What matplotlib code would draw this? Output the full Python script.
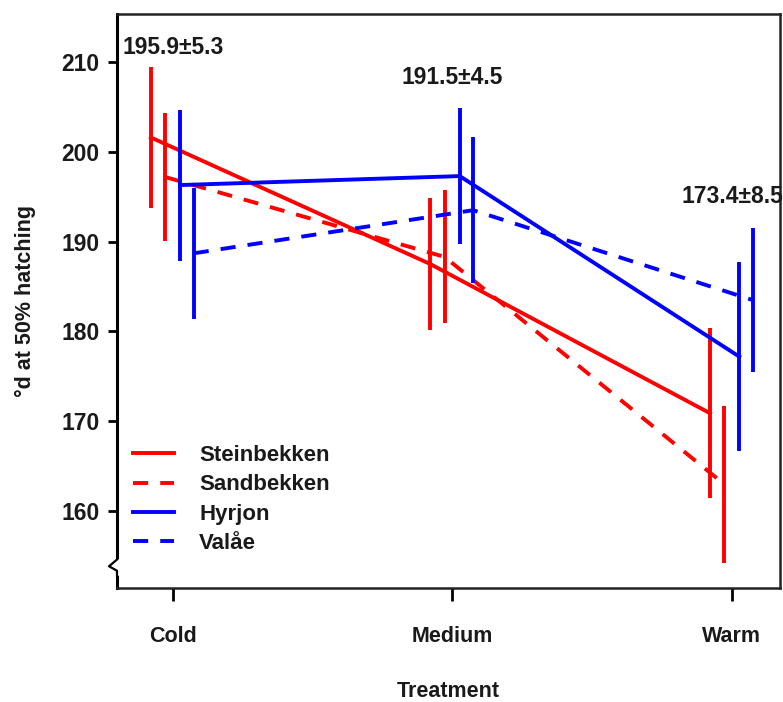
import matplotlib
matplotlib.use("Agg")
import matplotlib.pyplot as plt
import numpy as np

# ---- data ----
treatments = ["Cold", "Medium", "Warm"]
populations = ["Steinbekken", "Sandbekken", "Hyrjon", "Valåe"]
steinbekken_mean = [201.6, 187.5, 170.9]
steinbekken_err = [7.85, 7.35, 9.5]
sandbekken_mean = [197.2, 188.3, 163.0]
sandbekken_err = [7.1, 7.4, 8.75]
hyrjon_mean = [196.3, 197.3, 177.2]
hyrjon_err = [8.4, 7.6, 10.5]
valae_mean = [188.7, 193.5, 183.5]
valae_err = [7.3, 8.1, 8.0]
annotations = ["195.9±5.3", "191.5±4.5", "173.4±8.5"]
annot_y = [211.6, 208.3, 195.0]
yticks = [160, 170, 180, 190, 200, 210]

# ---- style ----
colors = ["#ff0000", "#ff0000", "#0000ff", "#0000ff"]
dash = (0, (3.9, 3.1))
styles = ["-", dash, "-", dash]
offsets = [-0.079, -0.028, 0.026, 0.074]
means = [steinbekken_mean, sandbekken_mean, hyrjon_mean, valae_mean]
errs = [steinbekken_err, sandbekken_err, hyrjon_err, valae_err]

plt.rcParams["font.family"] = ["Liberation Sans", "DejaVu Sans"]
plt.rcParams["font.weight"] = "bold"
TXT = "#1a1a1a"

fig = plt.figure(figsize=(7.83, 7.02), dpi=100)
ax = fig.add_axes([117 / 783, 1 - 588 / 702, (780 - 117) / 783, (588 - 14) / 702])

x = np.arange(len(treatments))
lw = 2.8
handles = []
for m, e, c, ls, off, name in zip(means, errs, colors, styles, offsets, populations):
    xs = x + off
    m = np.array(m)
    e = np.array(e)
    ax.vlines(xs, m - e, m + e, colors=c, linewidth=lw)
    h, = ax.plot(xs, m, color=c, linestyle=ls, linewidth=lw, label=name)
    handles.append(h)

for xi, txt, yy in zip(x, annotations, annot_y):
    ax.text(xi, yy, txt, ha="center", va="center", fontsize=16.5,
            fontweight="bold", color=TXT)

ax.set_xlim(-0.2004, 2.172)
ax.set_ylim(151.43, 215.35)
ax.set_xticks(x)
ax.set_xticklabels(treatments, fontweight="bold", color=TXT)
ax.set_yticks(yticks)
ax.set_yticklabels([str(t) for t in yticks], fontweight="bold", color=TXT)

ax.tick_params(axis="y", direction="out", length=6.5, width=2, labelsize=16.5, pad=6)
ax.tick_params(axis="x", direction="out", length=9, width=2, labelsize=15.5, pad=18)

ax.spines["left"].set_linewidth(2.2)
for s in ["top", "right", "bottom"]:
    ax.spines[s].set_linewidth(1.8)
    ax.spines[s].set_color("#222222")

ax.set_xlabel("Treatment", fontsize=15.5, fontweight="bold", color=TXT, labelpad=25)
ax.set_ylabel("°d at 50% hatching", fontsize=15.5, fontweight="bold", color=TXT,
              labelpad=18)

# axis break mark on the y-axis
yb = 153.7
ax.plot([0, 0], [yb - 0.6, yb + 0.6], transform=ax.get_yaxis_transform(),
        color="white", linewidth=4, clip_on=False, zorder=5)
ax.plot([0.0, -0.012, 0.0, 0.0], [yb + 0.9, yb + 0.15, yb - 0.35, yb - 0.9],
        transform=ax.get_yaxis_transform(), color="black", linewidth=1.6,
        clip_on=False, zorder=6)

leg = ax.legend(handles=handles, loc="upper left", bbox_to_anchor=(0.0, 0.276),
                frameon=False, fontsize=16, handlelength=1.85,
                handletextpad=1.15, labelspacing=0.37, borderaxespad=0.3)
for t in leg.get_texts():
    t.set_color(TXT)

fig.savefig("out.png", dpi=100)
